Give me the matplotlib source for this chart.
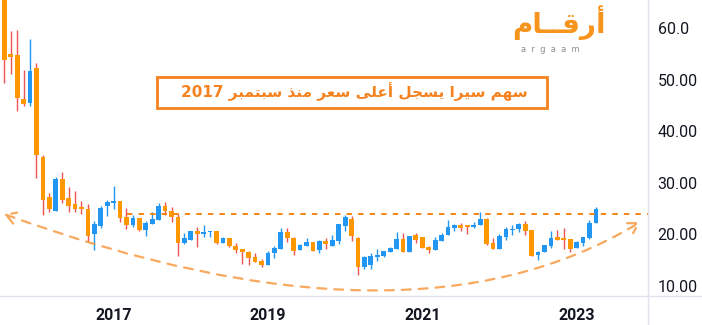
import matplotlib
matplotlib.use("Agg")
import matplotlib.pyplot as plt
import numpy as np
import pandas as pd
from matplotlib.patches import FancyArrowPatch, Rectangle
from matplotlib.path import Path
from matplotlib.lines import Line2D

plt.rcParams['font.family'] = ['Roboto', 'DejaVu Sans']

# monthly candles, Aug 2015 .. Apr 2023
dates = pd.date_range('2015-08-01', periods=93, freq='MS')
opens = [67.0, 55.0, 54.8, 46.2, 45.5, 52.2, 35.0, 27.2, 24.6, 30.7,
         27.1, 25.9, 25.1, 24.9, 20.1, 21.6, 25.5, 26.1, 26.5, 23.4,
         21.8, 23.2, 20.9, 22.0, 22.8, 25.5, 24.5, 23.4, 18.4, 19.0,
         20.7, 20.1, 20.5, 20.7, 18.4, 19.3, 17.8, 17.2, 16.6, 15.6,
         14.8, 14.1, 16.3, 17.2, 20.5, 19.3, 17.0, 17.8, 18.5, 17.0,
         18.7, 17.8, 18.8, 21.7, 23.0, 19.3, 13.7, 14.1, 15.7, 15.9,
         16.6, 17.2, 19.1, 16.5, 19.9, 19.5, 17.6, 17.0, 18.7, 19.9,
         21.2, 21.8, 21.8, 21.4, 21.8, 23.0, 18.3, 17.2, 19.5, 20.9,
         21.0, 22.0, 20.9, 16.0, 16.6, 17.8, 19.5, 19.2, 19.1, 17.4,
         18.3, 19.3, 22.2]
highs = [68.0, 59.4, 59.6, 51.9, 57.9, 53.2, 35.4, 28.1, 31.1, 32.1,
         29.2, 28.4, 26.5, 25.9, 22.6, 25.5, 26.7, 29.4, 26.5, 25.1,
         23.8, 23.2, 22.6, 24.3, 26.1, 26.3, 25.3, 24.0, 20.2, 20.7,
         21.4, 21.8, 20.7, 20.7, 19.5, 19.3, 18.3, 17.2, 16.8, 16.3,
         15.3, 16.8, 17.8, 21.2, 21.2, 19.5, 18.1, 19.3, 18.5, 18.9,
         19.3, 19.9, 22.0, 23.8, 23.6, 19.5, 15.8, 16.4, 17.2, 16.8,
         17.6, 20.5, 20.3, 19.7, 20.3, 19.5, 17.8, 19.5, 20.3, 22.8,
         22.0, 22.2, 21.8, 22.4, 24.3, 23.2, 19.3, 20.1, 21.4, 21.8,
         22.2, 22.6, 20.9, 16.8, 17.9, 20.7, 20.9, 21.2, 19.1, 18.7,
         19.5, 22.8, 25.3]
lows = [49.3, 51.1, 44.0, 44.9, 44.9, 31.0, 23.8, 24.3, 24.6, 26.1,
        24.3, 24.3, 24.0, 18.6, 17.0, 21.2, 23.6, 24.9, 22.4, 21.0,
        21.4, 20.7, 19.7, 22.0, 22.8, 23.8, 22.4, 15.8, 18.2, 19.0,
        17.6, 19.4, 19.4, 18.2, 18.4, 17.6, 16.3, 14.3, 14.1, 14.6,
        13.7, 14.1, 15.5, 17.2, 18.5, 16.1, 17.0, 17.8, 16.8, 16.3,
        17.2, 17.8, 18.2, 20.7, 18.8, 12.2, 13.2, 13.2, 14.9, 15.7,
        16.6, 17.2, 16.6, 16.5, 18.3, 17.4, 16.3, 17.0, 18.7, 19.9,
        20.7, 20.7, 20.1, 21.2, 21.8, 17.9, 17.2, 17.2, 18.9, 19.9,
        20.5, 19.9, 15.8, 15.0, 16.6, 17.4, 18.9, 17.2, 16.6, 17.4,
        17.8, 19.1, 22.2]
closes = [53.8, 54.4, 46.5, 45.3, 51.7, 35.3, 26.7, 24.9, 30.7, 26.7,
          25.6, 24.9, 25.0, 19.7, 22.0, 25.1, 26.3, 26.5, 23.2, 21.8,
          23.2, 20.9, 22.2, 23.0, 25.5, 24.5, 23.4, 18.3, 19.3, 20.7,
          20.1, 20.5, 20.6, 18.4, 19.3, 17.8, 17.0, 16.5, 15.5, 14.7,
          14.1, 16.4, 17.4, 20.5, 19.3, 16.8, 17.9, 18.5, 16.8, 18.7,
          18.1, 18.9, 22.0, 23.4, 19.7, 13.7, 15.6, 15.8, 16.0, 16.8,
          17.3, 19.1, 16.6, 19.7, 18.9, 17.4, 17.0, 18.9, 19.9, 21.4,
          21.8, 21.2, 21.4, 21.8, 23.0, 18.1, 17.2, 19.7, 21.0, 21.1,
          22.0, 20.7, 15.8, 16.6, 17.9, 19.3, 18.9, 19.0, 17.2, 18.5,
          19.5, 22.2, 24.9]

resistance = 23.9
year_labels = ['2017', '2019', '2021', '2023']
ytick_vals = [10, 20, 30, 40, 50, 60]
ytick_text = ['10.00', '20.00', '30.00', '40.00', '50.00', '60.0']
title_ar = 'سهم سيرا يسجل أعلى سعر منذ سبتمبر 2017'
logo_ar = 'أرقــام'

# --- minimal Arabic shaping (presentation forms) + RTL ordering ---
FORMS = {
    '\u0627': ('\uFE8D', '\uFE8E', None, None),
    '\u0623': ('\uFE83', '\uFE84', None, None),
    '\u0628': ('\uFE8F', '\uFE90', '\uFE91', '\uFE92'),
    '\u062A': ('\uFE95', '\uFE96', '\uFE97', '\uFE98'),
    '\u062C': ('\uFE9D', '\uFE9E', '\uFE9F', '\uFEA0'),
    '\u0630': ('\uFEAB', '\uFEAC', None, None),
    '\u0631': ('\uFEAD', '\uFEAE', None, None),
    '\u0633': ('\uFEB1', '\uFEB2', '\uFEB3', '\uFEB4'),
    '\u0639': ('\uFEC9', '\uFECA', '\uFECB', '\uFECC'),
    '\u0642': ('\uFED5', '\uFED6', '\uFED7', '\uFED8'),
    '\u0644': ('\uFEDD', '\uFEDE', '\uFEDF', '\uFEE0'),
    '\u0645': ('\uFEE1', '\uFEE2', '\uFEE3', '\uFEE4'),
    '\u0646': ('\uFEE5', '\uFEE6', '\uFEE7', '\uFEE8'),
    '\u0647': ('\uFEE9', '\uFEEA', '\uFEEB', '\uFEEC'),
    '\u0649': ('\uFEEF', '\uFEF0', '\uFBE8', '\uFBE9'),
    '\u064A': ('\uFEF1', '\uFEF2', '\uFEF3', '\uFEF4'),
    '\u0640': ('\u0640', '\u0640', '\u0640', '\u0640'),
}


def shape_word(w):
    out = []
    for i, ch in enumerate(w):
        f = FORMS.get(ch)
        if f is None:
            out.append(ch)
            continue
        prev = w[i - 1] if i > 0 else None
        nxt = w[i + 1] if i + 1 < len(w) else None
        jp = prev in FORMS and FORMS[prev][2] is not None
        jn = nxt in FORMS and f[2] is not None
        if jp and jn:
            out.append(f[3])
        elif jp:
            out.append(f[1])
        elif jn:
            out.append(f[2])
        else:
            out.append(f[0])
    return ''.join(out)


def rtl(text):
    words = text.split(' ')
    vis = [w if w.isdigit() else shape_word(w)[::-1] for w in words]
    return ' '.join(vis[::-1])


up_col = '#2196F3'
down_col = '#FF9800'
down_wick = '#EF5350'
orange = '#F5821F'
grid_col = '#E0E3EB'

fig = plt.figure(figsize=(7.02, 3.25), dpi=100)
ax = fig.add_axes([0, 29 / 325, 648 / 702, 296 / 325])

x = np.arange(len(dates))
o = np.array(opens); h = np.array(highs); l = np.array(lows); c = np.array(closes)
up = c >= o
body_col = np.where(up, up_col, down_col)
wick_col = np.where(up, up_col, down_wick)
bottom = np.minimum(o, c)
height = np.maximum(np.abs(c - o), 0.22)

ax.vlines(x, l, h, colors=wick_col, linewidth=1.0, zorder=2)
ax.bar(x, height, bottom=bottom, width=0.74, color=body_col, linewidth=0, zorder=3)

x_left, x_right = -0.67, 100.1
ax.set_xlim(x_left, x_right)
ax.set_ylim(8.06, 65.43)

# resistance line
ax.hlines(resistance, 19.1, x_right, colors='#F57C00', linewidth=1.3,
          linestyles=(0, (3.0, 3.4)), zorder=4)

# rounded-bottom arc with arrows
arc = Path([(-0.05, 23.95), (63.1, -4.7), (98.9, 22.4)],
           [Path.MOVETO, Path.CURVE3, Path.CURVE3])
ax.add_patch(FancyArrowPatch(path=arc, arrowstyle='<->,head_length=0.5,head_width=0.3',
                             mutation_scale=14, color='#F79A42', alpha=0.85,
                             linewidth=1.6, linestyle=(0, (4, 3.6)), zorder=5))

# axes styling
for s in ax.spines.values():
    s.set_visible(False)
ax.yaxis.tick_right()
ax.set_yticks(ytick_vals)
ax.set_yticklabels(ytick_text)
ax.tick_params(axis='y', length=0, pad=7, labelsize=11.5, labelcolor='#131722')
tick_pos = [list(dates).index(pd.Timestamp(f'{y}-01-01')) for y in year_labels]
ax.set_xticks(tick_pos)
ax.set_xticklabels(year_labels, fontweight='bold')
ax.tick_params(axis='x', length=0, pad=9, labelsize=11.5, labelcolor='#131722')

fig.add_artist(Line2D([648 / 702, 648 / 702], [0, 1], color=grid_col, linewidth=1))
fig.add_artist(Line2D([0, 1], [29 / 325, 29 / 325], color=grid_col, linewidth=1))

# title box
fig.add_artist(Rectangle((157 / 702, 1 - 108 / 325), 390 / 702, 31 / 325,
                         transform=fig.transFigure, facecolor='white',
                         edgecolor=orange, linewidth=2, zorder=6))
fig.text(354 / 702, 1 - 92 / 325, rtl(title_ar), family=['DejaVu Sans'],
         fontweight='bold', fontsize=11, color=orange, ha='center', va='center',
         zorder=7)

# logo
fig.text(559 / 702, 1 - 23 / 325, rtl(logo_ar), family=['DejaVu Sans'],
         fontweight='bold', fontsize=20, color='#F7941D', ha='center', va='center')
fig.text(550 / 702, 1 - 50 / 325, 'a  r  g  a  a  m', family=['DejaVu Sans'],
         fontsize=6, color='#8C8C8C', ha='center', va='center')

fig.savefig('out.png', dpi=100)
